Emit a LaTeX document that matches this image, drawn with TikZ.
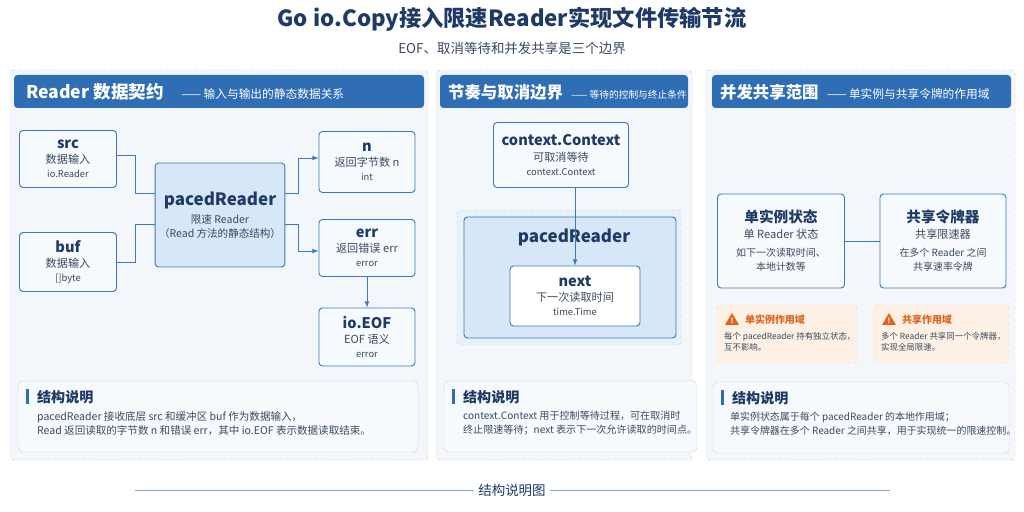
\documentclass[tikz,border=0pt]{standalone}
\usepackage{fontspec}
\setmainfont{Noto Sans CJK SC}
\usetikzlibrary{positioning}
\definecolor{navy}{HTML}{1F3A64}
\definecolor{hdr}{HTML}{2F6DB5}
\definecolor{edge}{HTML}{3F78B5}
\definecolor{pane}{HTML}{F3F7FB}
\definecolor{boxbg}{HTML}{F7FAFD}
\definecolor{core}{HTML}{D6E7F7}
\definecolor{warn}{HTML}{E0621E}
\definecolor{warnbg}{HTML}{FDF1E6}
\definecolor{txt}{HTML}{3A4A5E}
\tikzset{
  panel/.style = {draw=gray!45, dashed, fill=pane, rounded corners=3pt},
  head/.style = {fill=hdr, rounded corners=3pt},
  item/.style = {draw=edge, thick, fill=boxbg, rounded corners=3pt, align=center, text=navy},
  note/.style = {draw=gray!35, fill=boxbg, rounded corners=4pt},
  link/.style = {draw=edge, thick},
  flow/.style = {draw=edge, thick, -latex},
  ttl/.style = {font=\fontsize{12}{14}\selectfont\bfseries, text=navy},
  sub/.style = {font=\fontsize{9}{12}\selectfont, text=txt},
}
\newcommand{\boxtext}[3]{{\fontsize{12.5}{15}\selectfont\bfseries #1}\\[1pt]{\fontsize{9.5}{12}\selectfont\color{txt}#2}\\{\fontsize{8}{11}\selectfont\color{txt}#3}}
\begin{document}
\begin{tikzpicture}[x=0.03cm, y=-0.03cm]
\useasboundingbox (0,0) rectangle (1024,512);
\fill[white] (0,0) rectangle (1024,512);
% title
\node (title) at (512,19) {\fontsize{19}{22}\selectfont\bfseries\color{navy}Go io.Copy接入限速Reader实现文件传输节流};
\node (subtitle) at (512,48) {\fontsize{11.5}{13}\selectfont\color{txt}EOF、取消等待和并发共享是三个边界};
% panels
\draw[panel] (10,70) rectangle (428,460);
\draw[panel] (436,70) rectangle (692,460);
\draw[panel] (706,70) rectangle (1015,460);
\fill[head] (14,75) rectangle (424,108);
\fill[head] (440,75) rectangle (688,108);
\fill[head] (712,75) rectangle (1011,108);
\node[anchor=west, text=white] (h1) at (22,92) {\fontsize{15}{17}\selectfont\bfseries Reader 数据契约\quad{\fontsize{10}{12}\selectfont\mdseries —— 输入与输出的静态数据关系}};
\node[anchor=west, text=white] (h2) at (444,92) {\fontsize{14}{17}\selectfont\bfseries 节奏与取消边界\enspace{\fontsize{8.3}{11}\selectfont\mdseries —— 等待的控制与终止条件}};
\node[anchor=west, text=white] (h3) at (716,92) {\fontsize{14}{17}\selectfont\bfseries 并发共享范围\enspace{\fontsize{10}{12}\selectfont\mdseries —— 单实例与共享令牌的作用域}};

% panel 1
\node[item, minimum width=97*0.03cm, minimum height=57*0.03cm] (src) at (68,159) {\boxtext{src}{数据输入}{io.Reader}};
\node[item, minimum width=97*0.03cm, minimum height=59*0.03cm] (buf) at (68,262) {\boxtext{buf}{数据输入}{[]byte}};
\node[item, fill=core, minimum width=122*0.03cm, minimum height=104*0.03cm] (paced) at (220,215) {{\fontsize{14.5}{17}\selectfont\bfseries pacedReader}\\[3pt]{\fontsize{9}{12}\selectfont\color{txt}限速 Reader}\\{\fontsize{9}{12}\selectfont\color{txt}（Read 方法的静态结构）}};
\node[item, minimum width=96*0.03cm, minimum height=61*0.03cm] (n) at (367,162) {\boxtext{n}{返回字节数 n}{int}};
\node[item, minimum width=96*0.03cm, minimum height=57*0.03cm] (err) at (367,248) {\boxtext{err}{返回错误 err}{error}};
\node[item, minimum width=96*0.03cm, minimum height=58*0.03cm] (eof) at (367,337) {\boxtext{io.EOF}{EOF 语义}{error}};
\draw[link] (src.east |- 0,155) -| (135,193) -- (paced.west |- 0,193);
\draw[link] (buf.east |- 0,262) -| (135,224) -- (paced.west |- 0,224);
\draw[flow] (paced.east |- 0,193) -| (298,158) -- (n.west |- 0,158);
\draw[flow] (paced.east |- 0,224) -| (298,251) -- (err.west |- 0,251);
\draw[flow] (err) -- (eof);
\draw[note] (18,381) rectangle (418,452);
\fill[hdr] (26,389) rectangle (29,404);
\node[anchor=west, ttl] (nt1) at (33,397) {结构说明};
\node[anchor=north west, sub, align=left] (nb1) at (33,407) {pacedReader 接收底层 src 和缓冲区 buf 作为数据输入，\\Read 返回读取的字节数 n 和错误 err，其中 io.EOF 表示数据读取结束。};

% panel 2
\node[item, minimum width=135*0.03cm, minimum height=65*0.03cm] (ctx) at (561,155) {\boxtext{context.Context}{可取消等待}{context.Context}};
\draw[draw=gray!45, dashed, rounded corners=3pt, fill=pane!60!core] (457,210) rectangle (681,345);
\draw[draw=edge, thick, fill=core, rounded corners=3pt] (464,217) rectangle (676,338);
\node[ttl, font=\fontsize{14.5}{17}\selectfont\bfseries] (paced2) at (574,237) {pacedReader};
\node[item, fill=white, minimum width=130*0.03cm, minimum height=60*0.03cm] (next) at (575,296) {\boxtext{next}{下一次读取时间}{time.Time}};
\draw[flow] (ctx.south -| next.north) -- (next.north);
\draw[note] (444,381) rectangle (697,452);
\fill[hdr] (452,389) rectangle (455,404);
\node[anchor=west, ttl] (nt2) at (459,397) {结构说明};
\node[anchor=north west, sub, font=\fontsize{8.6}{12}\selectfont, align=left] (nb2) at (459,407) {context.Context 用于控制等待过程，可在取消时\\终止限速等待；next 表示下一次允许读取的时间点。};

% panel 3
\node[item, minimum width=127*0.03cm, minimum height=94*0.03cm] (single) at (781,241) {{\fontsize{12.5}{15}\selectfont\bfseries 单实例状态}\\[1pt]{\fontsize{9.5}{12}\selectfont\color{txt}单 Reader 状态}\\[4pt]{\fontsize{8.5}{11}\selectfont\color{txt}如下一次读取时间、}\\{\fontsize{8.5}{11}\selectfont\color{txt}本地计数等}};
\node[item, minimum width=126*0.03cm, minimum height=94*0.03cm] (shared) at (943,241) {{\fontsize{12.5}{15}\selectfont\bfseries 共享令牌器}\\[1pt]{\fontsize{9.5}{12}\selectfont\color{txt}共享限速器}\\[4pt]{\fontsize{8.5}{11}\selectfont\color{txt}在多个 Reader 之间}\\{\fontsize{8.5}{11}\selectfont\color{txt}共享速率令牌}};
\draw[link] (single) -- (shared);
\foreach \x/\y/\t/\a/\b in {717/857/单实例作用域/每个 pacedReader 持有独立状态，/互不影响。, 874/1009/共享作用域/多个 Reader 共享同一个令牌器，/实现全局限速。} {
  \draw[draw=orange!40, dashed, fill=warnbg, rounded corners=3pt] (\x,305) rectangle (\y,363);
  \fill[warn] (\x+8,325) -- (\x+15,313) -- (\x+22,325) -- cycle;
  \node[text=white, font=\fontsize{6}{6}\selectfont\bfseries] at (\x+15,321) {!};
  \node[anchor=west, text=warn, font=\fontsize{8.5}{10}\selectfont\bfseries] at (\x+24,320) {\t};
  \node[anchor=north west, font=\fontsize{7.2}{10}\selectfont, text=txt, align=left] at (\x+3,328) {\a\\\b};
}
\draw[note] (713,382) rectangle (1009,453);
\fill[hdr] (721,390) rectangle (724,405);
\node[anchor=west, ttl] (nt3) at (728,398) {结构说明};
\node[anchor=north west, sub, font=\fontsize{8.5}{12}\selectfont, align=left] (nb3) at (726,408) {单实例状态属于每个 pacedReader 的本地作用域；\\共享令牌器在多个 Reader 之间共享，用于实现统一的限速控制。};

% footer
\node (footer) at (512,490) {\fontsize{11.5}{13}\selectfont\color{navy}结构说明图};
\draw[hdr!60] (135,490) -- (footer.west);
\draw[hdr!60] (footer.east) -- (890,490);
\end{tikzpicture}
\end{document}
